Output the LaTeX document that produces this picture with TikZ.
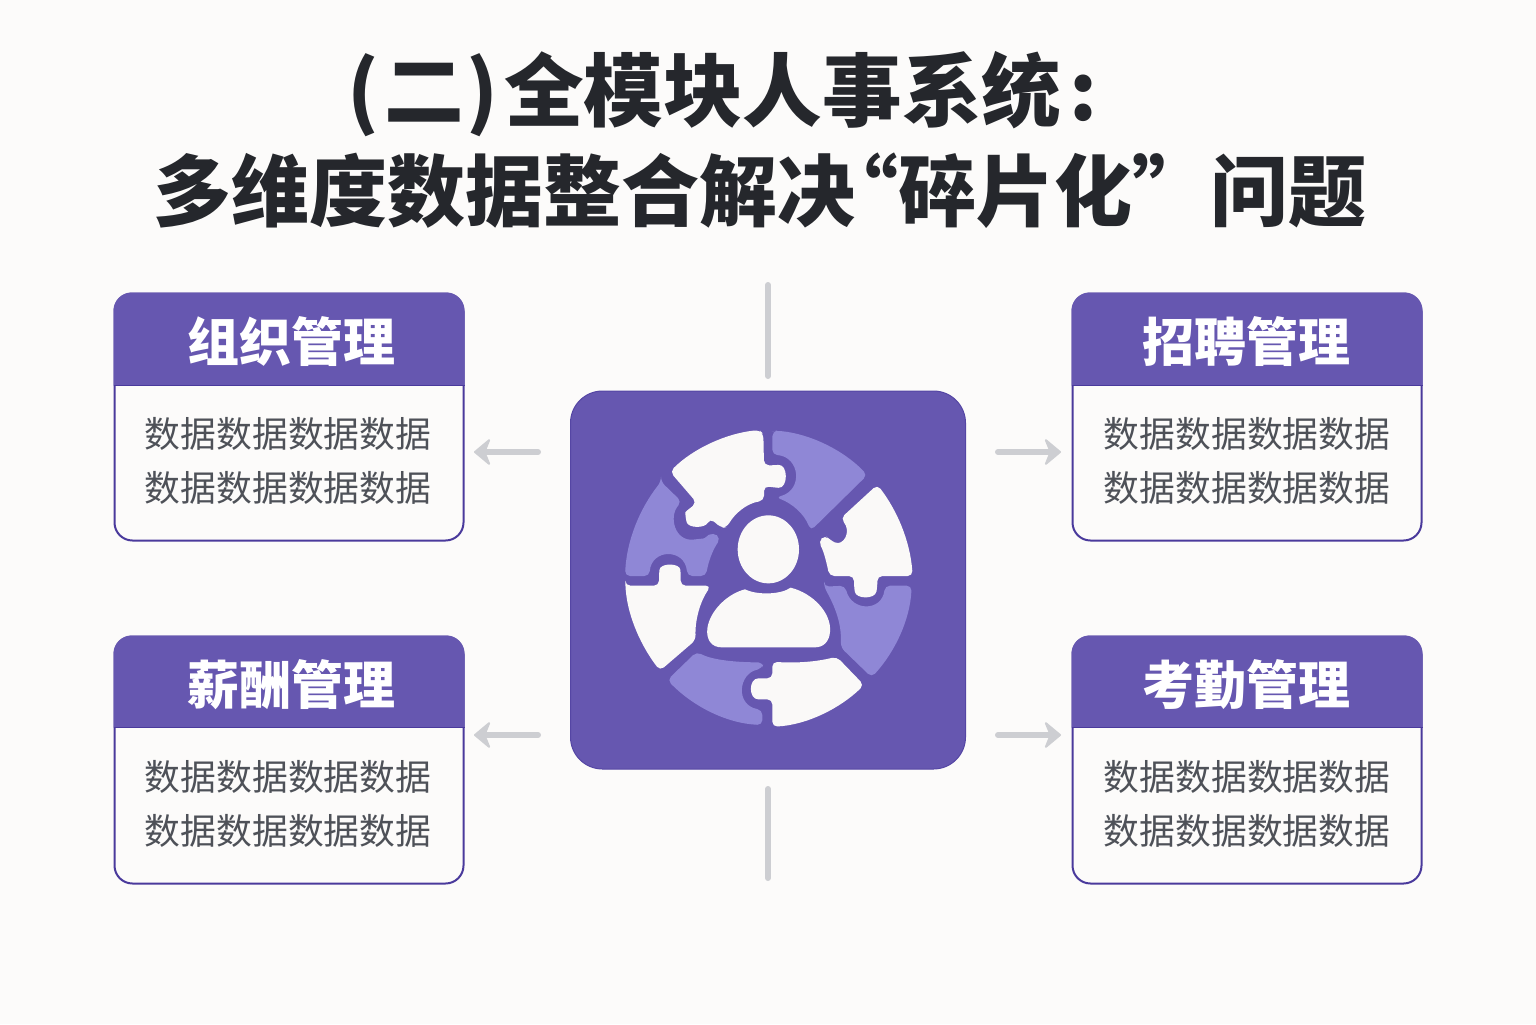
\documentclass[tikz,border=0pt]{standalone}
\usepackage{fontspec}
\usepackage{tikz}
\usetikzlibrary{positioning, arrows.meta}
\newfontfamily\cjk{Noto Sans CJK SC}
\definecolor{pagebg}{HTML}{FCFBFA}
\definecolor{hubpurple}{HTML}{6657B0}
\definecolor{edgepurple}{HTML}{4A3A9C}
\definecolor{piecelight}{HTML}{8F87D6}
\definecolor{piecewhite}{HTML}{FAF9F8}
\definecolor{linegray}{HTML}{CDCED2}
\definecolor{bodygray}{HTML}{4E5158}
\definecolor{titledark}{HTML}{25272C}

\begin{document}
\begin{tikzpicture}[
                x=0.5pt, y=-0.5pt,
                titletext/.style={text=titledark, inner sep=0pt, font=\cjk\bfseries\fontsize{39}{49}\selectfont}, % Two title lines
                cardbox/.style={draw=edgepurple, line width=1pt, fill=pagebg, rounded corners=9pt, minimum width=174.5pt, minimum height=123.5pt, inner sep=0pt},
                headfill/.style={fill=hubpurple},
                headtext/.style={text=white, inner sep=0pt, font=\cjk\bfseries\fontsize{26}{30}\selectfont},
                bodytext/.style={text=bodygray, inner sep=0pt, align=center, font=\cjk\fontsize{17.9}{26.6}\selectfont},
                hubbox/.style={fill=hubpurple, draw=edgepurple!60!hubpurple, line width=0.5pt, rounded corners=16pt, minimum width=197.5pt, minimum height=189pt, inner sep=0pt},
                guideline/.style={draw=linegray, line width=3pt, line cap=round},
                flowarrow/.style={draw=linegray, line width=3pt, line cap=round, -{Stealth[round, length=9pt, width=15pt, inset=3pt, line width=1pt]}},
                lightpiece/.style={fill=piecelight, rounded corners=2.5pt},
                whitepiece/.style={fill=piecewhite, rounded corners=2.5pt}
                ]
                \fill[pagebg] (0,0) rectangle (1536,1024);

                % Title
                \node[titletext, anchor=center] (titleone) at (722.5,94) {\fontsize{39.8}{49}\selectfont(\hspace{2.5pt}二\hspace{1pt})\hspace{-6pt} 全模块人事系统\hspace{4pt}:};
                \node[titletext, anchor=center] (titletwo) at (760,191) {多维度数据整合解决\hspace{-17.5pt}“碎片化”\hspace{-9pt} 问题};

                % Cards on the left
                \node[cardbox] (orgcard) at (289,417) {};
                \fill[headfill] ([yshift=-46.5pt]orgcard.north west) [rounded corners=9pt] -- (orgcard.north west) -- (orgcard.north east) [sharp corners] -- ([yshift=-46.5pt]orgcard.north east) -- cycle;
                \draw[edgepurple, line width=0.5pt] ([yshift=-46.5pt]orgcard.north west) -- ([yshift=-46.5pt]orgcard.north east);
                \node[headtext] (orgtitle) at (291,342) {组织管理};
                \node[bodytext] (orgtext) at (288,461) {数据数据数据数据\\数据数据数据数据};

                \node[cardbox] (paycard) at (289,760) {};
                \fill[headfill] ([yshift=-46pt]paycard.north west) [rounded corners=9pt] -- (paycard.north west) -- (paycard.north east) [sharp corners] -- ([yshift=-46pt]paycard.north east) -- cycle;
                \draw[edgepurple, line width=0.5pt] ([yshift=-46pt]paycard.north west) -- ([yshift=-46pt]paycard.north east);
                \node[headtext] (paytitle) at (291,685) {薪酬管理};
                \node[bodytext] (paytext) at (288,804) {数据数据数据数据\\数据数据数据数据};

                % Cards on the right
                \node[cardbox] (hirecard) at (1247,417) {};
                \fill[headfill] ([yshift=-46.5pt]hirecard.north west) [rounded corners=9pt] -- (hirecard.north west) -- (hirecard.north east) [sharp corners] -- ([yshift=-46.5pt]hirecard.north east) -- cycle;
                \draw[edgepurple, line width=0.5pt] ([yshift=-46.5pt]hirecard.north west) -- ([yshift=-46.5pt]hirecard.north east);
                \node[headtext] (hiretitle) at (1246,342) {招聘管理};
                \node[bodytext] (hiretext) at (1247,461) {数据数据数据数据\\数据数据数据数据};

                \node[cardbox] (attcard) at (1247,760) {};
                \fill[headfill] ([yshift=-46pt]attcard.north west) [rounded corners=9pt] -- (attcard.north west) -- (attcard.north east) [sharp corners] -- ([yshift=-46pt]attcard.north east) -- cycle;
                \draw[edgepurple, line width=0.5pt] ([yshift=-46pt]attcard.north west) -- ([yshift=-46pt]attcard.north east);
                \node[headtext] (atttitle) at (1246,685) {考勤管理};
                \node[bodytext] (atttext) at (1247,804) {数据数据数据数据\\数据数据数据数据};

                % Centre square
                \node[hubbox] (hub) at (768,580) {};

                % Free ends of the connectors
                \coordinate (upstart) at (768,376);
                \coordinate (upend) at (768,285);
                \coordinate (downstart) at (768,789);
                \coordinate (downend) at (768,878);
                \coordinate (orgstart) at (538,452);
                \coordinate (orgend) at (474,452);
                \coordinate (paystart) at (538,735);
                \coordinate (payend) at (474,735);
                \coordinate (hirestart) at (998,452);
                \coordinate (hireend) at (1061,452);
                \coordinate (attstart) at (998,735);
                \coordinate (attend) at (1061,735);

                \draw[guideline] (upstart) -- (upend);
                \draw[guideline] (downstart) -- (downend);
                \draw[flowarrow] (orgstart) -- (orgend);
                \draw[flowarrow] (paystart) -- (payend);
                \draw[flowarrow] (hirestart) -- (hireend);
                \draw[flowarrow] (attstart) -- (attend);

                % Puzzle ring and person
                \begin{scope}[shift={(600,410)}, x=0.16667pt, y=-0.16667pt]
                    \fill[whitepiece] (210,185) .. controls (280,115) and (380,70) .. (478,60) -- (490,72) -- (492,166) -- (520,166) .. controls (565,162) and (565,236) .. (520,232) -- (492,228) -- (492,272) .. controls (440,280) and (405,310) .. (380,352) -- (365,354) -- (330,325) .. controls (315,355) and (265,355) .. (256,322) .. controls (256,305) and (270,295) .. (290,278) -- cycle;
                    \fill[lightpiece] (517,64) -- (530,62) .. controls (630,72) and (730,120) .. (802,195) -- (632,362) .. controls (612,310) and (575,280) .. (528,262) .. controls (610,240) and (600,140) .. (517,134) -- cycle;
                    \fill[whitepiece] (832,224) .. controls (890,300) and (930,390) .. (938,498) -- (832,498) -- (832,530) .. controls (825,568) and (768,568) .. (762,530) -- (762,498) -- (688,498) .. controls (680,460) and (672,425) .. (655,395) -- (675,375) -- (690,390) .. controls (730,410) and (755,365) .. (722,325) -- cycle;
                    \fill[lightpiece] (672,530) -- (735,527) .. controls (755,605) and (845,605) .. (855,527) -- (935,527) .. controls (930,630) and (885,725) .. (815,802) -- (722,712) .. controls (725,640) and (705,590) .. (672,530) -- cycle;
                    \fill[whitepiece] (517,755) .. controls (590,760) and (650,755) .. (710,740) -- (792,825) .. controls (720,895) and (620,945) .. (517,950) -- (517,868) -- (490,868) .. controls (445,868) and (445,805) .. (490,805) -- (517,805) -- cycle;
                    \fill[lightpiece] (290,725) .. controls (340,752) and (420,757) .. (490,757) -- (487,776) .. controls (415,790) and (405,885) .. (487,900) -- (487,945) .. controls (380,940) and (280,890) .. (202,810) -- cycle;
                    \fill[whitepiece] (76,527) -- (177,527) -- (177,495) .. controls (180,458) and (240,458) .. (242,495) -- (242,527) -- (333,527) .. controls (300,575) and (285,630) .. (287,690) -- (180,782) .. controls (125,710) and (85,625) .. (76,527) -- cycle;
                    \fill[lightpiece] (183,215) -- (245,275) .. controls (205,320) and (225,395) .. (295,387) .. controls (315,385) and (325,375) .. (340,367) -- (362,385) .. controls (338,420) and (325,455) .. (318,498) -- (262,498) .. controls (255,415) and (155,415) .. (148,498) -- (75,498) .. controls (80,390) and (120,295) .. (183,215) -- cycle;
                    \fill[piecewhite] (505,418) ellipse [x radius=92, y radius=102];
                    \fill[piecewhite] (435,538) .. controls (470,555) and (540,555) .. (572,533) .. controls (640,550) and (695,610) .. (690,665) .. controls (688,695) and (670,712) .. (645,712) -- (365,712) .. controls (335,712) and (318,690) .. (322,655) .. controls (330,600) and (385,550) .. (435,538) -- cycle;
                \end{scope}
            \end{tikzpicture}
\end{document}
